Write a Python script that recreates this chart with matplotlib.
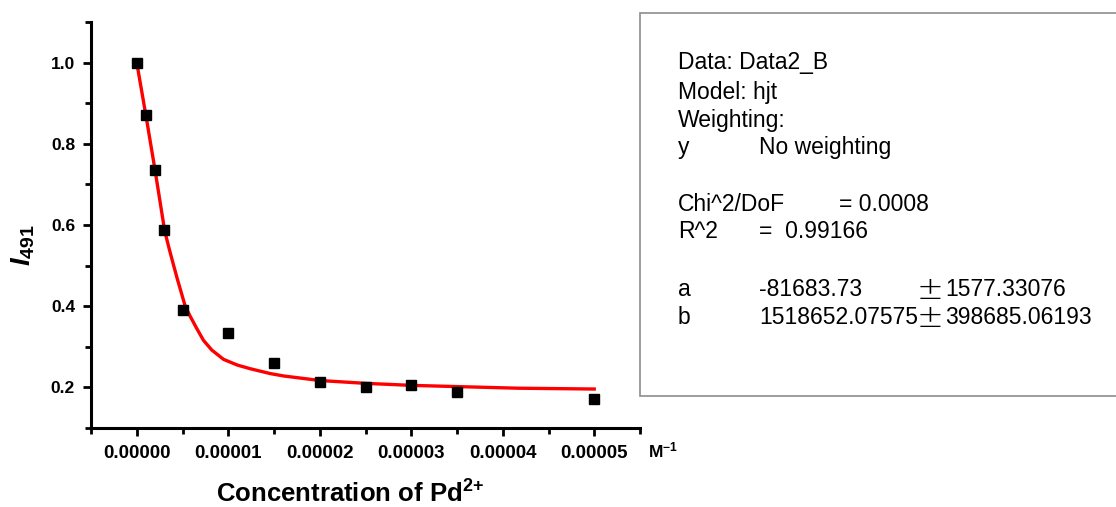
import matplotlib
matplotlib.use("Agg")
import matplotlib.pyplot as plt
from matplotlib.ticker import MultipleLocator, FormatStrFormatter
from matplotlib.patches import Rectangle

plt.rcParams['font.family'] = ['Liberation Sans', 'DejaVu Sans']
plt.rcParams['mathtext.fontset'] = 'custom'
plt.rcParams['mathtext.rm'] = 'Liberation Sans'
plt.rcParams['mathtext.bf'] = 'Liberation Sans:bold'
plt.rcParams['mathtext.it'] = 'Liberation Sans:italic'
plt.rcParams['mathtext.bfit'] = 'Liberation Sans:bold:italic'

# measured data (concentration in M, normalized intensity)
conc = [0, 1e-6, 2e-6, 3e-6, 5e-6, 1e-5, 1.5e-5, 2e-5, 2.5e-5, 3e-5, 3.5e-5, 5e-5]
intensity = [1.0, 0.870, 0.735, 0.587, 0.391, 0.334, 0.261, 0.214, 0.201, 0.205, 0.189, 0.171]

# fitted curve
fit_x = [0, 1e-6, 2e-6, 3.05e-6, 3.55e-6, 4.0e-6, 4.43e-6, 5.27e-6, 5.82e-6, 6.56e-6,
         7.29e-6, 8.2e-6, 9.49e-6, 1.10e-5, 1.24e-5, 1.46e-5, 1.61e-5, 2.0e-5,
         2.5e-5, 3.0e-5, 3.5e-5, 4.17e-5, 5.0e-5]
fit_y = [1.0, 0.870, 0.735, 0.586, 0.541, 0.503, 0.4675, 0.402, 0.376, 0.345,
         0.316, 0.292, 0.269, 0.255, 0.246, 0.234, 0.228, 0.217,
         0.210, 0.205, 0.202, 0.198, 0.196]

x_ticks = [0, 1e-5, 2e-5, 3e-5, 4e-5, 5e-5]
y_ticks = [0.2, 0.4, 0.6, 0.8, 1.0]

W, H = 1116, 507
fig = plt.figure(figsize=(W / 100, H / 100), dpi=100)
fig.patch.set_facecolor('white')
ax = fig.add_axes([91 / W, 1 - 428 / H, (640 - 91) / W, (428 - 22) / H])

ax.plot(fit_x, fit_y, color='#ff0000', lw=2.4, zorder=2, solid_joinstyle='round')
ax.plot(conc, intensity, ls='none', marker='s', ms=6.5, color='black', zorder=3)

ax.set_xlim(-0.5e-5, 5.5e-5)
ax.set_ylim(0.1, 1.1)
ax.set_xticks(x_ticks)
ax.set_yticks(y_ticks)
ax.xaxis.set_minor_locator(MultipleLocator(0.5e-5))
ax.yaxis.set_minor_locator(MultipleLocator(0.1))
ax.xaxis.set_major_formatter(FormatStrFormatter('%.5f'))
ax.yaxis.set_major_formatter(FormatStrFormatter('%.1f'))

for s in ['top', 'right']:
    ax.spines[s].set_visible(False)
for s in ['left', 'bottom']:
    ax.spines[s].set_linewidth(2.2)

ax.tick_params(which='major', direction='out', length=5.5, width=2)
ax.tick_params(axis='y', which='major', pad=6, labelsize=12.5)
ax.tick_params(axis='x', which='major', pad=7, labelsize=13.5)
ax.tick_params(which='minor', direction='out', length=4, width=2)
for lab in ax.get_xticklabels() + ax.get_yticklabels():
    lab.set_fontweight('bold')

ax.set_xlabel(r'Concentration of Pd$^{\mathbf{2\!+}}$', fontsize=18.5, fontweight='bold')
ax.xaxis.set_label_coords(0.473, -0.13)
ax.set_ylabel(r'$\mathbfit{I}_{\mathbf{491}}$', fontsize=20)
ax.yaxis.set_label_coords(-0.098, 0.45)

fig.text(648 / W, 1 - 450 / H, 'M$^{\\mathbf{-1}}$', fontsize=12.5, fontweight='bold',
         va='center', ha='left')

# fit results box
fig.patches.append(Rectangle((640 / W, 1 - 396 / H), (W - 640 + 10) / W, (396 - 12.5) / H,
                             transform=fig.transFigure, facecolor='white',
                             edgecolor='#8c8c8c', lw=1.2, zorder=0))
fs = 16.5
def t(x, y, s, **kw):
    kw.setdefault('fontsize', fs)
    fig.text(x / W, 1 - y / H, s, va='center', ha='left', **kw)

t(678, 63, "Data: Data2_B")
t(678, 92, "Model: hjt")
t(678, 120, "Weighting:")
t(678, 148, "y")
t(759, 148, "No weighting")
t(678, 204, "Chi^2/DoF")
t(839, 204, "= 0.0008")
t(678, 232, "R^2")
t(759, 232, "=  0.99166")
t(678, 290, "a")
t(759, 290, "-81683.73")
t(917, 290, "\u00b1", fontsize=23, fontweight='light', family=['DejaVu Sans'])
t(945, 290, "1577.33076")
t(678, 318, "b")
t(759, 318, "1518652.07575")
t(917, 318, "\u00b1", fontsize=23, fontweight='light', family=['DejaVu Sans'])
t(945, 318, "398685.06193")

fig.savefig('out.png', dpi=100, facecolor='white')
